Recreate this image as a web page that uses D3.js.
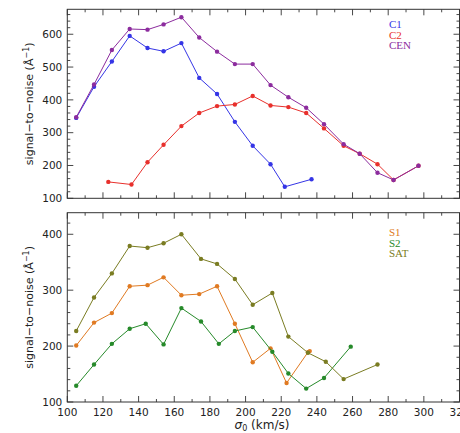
<!DOCTYPE html>
<html>
<head>
<meta charset="utf-8">
<script src="https://cdn.jsdelivr.net/npm/d3@7"></script>
<style>
  html, body { margin: 0; padding: 0; background: #fff; }
  svg { display: block; }
  .tick-label { font-family: "DejaVu Sans", sans-serif; font-size: 10.5px; fill: #222; }
  .axis-title { font-family: "DejaVu Sans", sans-serif; font-size: 11px; fill: #222; }
  .legend { font-family: "Liberation Serif", serif; font-size: 11px; }
</style>
</head>
<body>
<svg id="chart" width="460" height="433"></svg>
<script>
// Central-region fibres
const c1Sigma = [105,115,125,135,145,154,164,174,184,194,204,214,222,237];
const c1SN    = [345,440,517,595,558,548,573,467,418,333,260,204,135,158];
const c2Sigma = [123,136,145,154,164,174,184,194,204,214,224,234,244,255,264,274,283,297];
const c2SN    = [150,142,210,263,320,360,381,386,412,383,378,360,313,260,236,204,156,199];
const cenSigma = [105,115,125,135,145,154,164,174,184,194,204,214,224,234,244,255,264,274,283,297];
const cenSN    = [347,447,552,616,614,630,652,590,547,509,509,445,408,376,326,265,236,178,156,199];

// Satellite fibres
const s1Sigma = [105,115,125,135,145,154,164,174,184,194,204,214,223,235,236];
const s1SN    = [201,242,259,307,309,323,291,293,307,240,171,196,134,189,191];
const s2Sigma = [105,115,125,135,144,154,164,175,185,194,204,215,224,234,244,259];
const s2SN    = [129,167,204,231,240,203,268,244,204,227,234,190,151,124,143,199];
const satSigma = [105,115,125,135,145,154,164,175,184,194,204,215,224,235,245,255,274];
const satSN    = [227,287,330,379,376,384,400,356,347,320,274,295,217,188,172,141,167];

const xTicks = [100,120,140,160,180,200,220,240,260,280,300,320];
const yTicksTop = [100,200,300,400,500,600];
const yTicksBottom = [100,200,300,400];

const svg = d3.select("#chart");
const left = 67.3, right = 459.5;

const x = d3.scaleLinear().domain([100, 320]).range([left, right]);

const panels = [
  {
    top: 9.3, bottom: 198.3, domain: [100, 676], yTicks: yTicksTop, xLabels: false,
    series: [
      { name: "C1",  sigma: c1Sigma,  sn: c1SN,  color: "#3535e6" },
      { name: "C2",  sigma: c2Sigma,  sn: c2SN,  color: "#e8302c" },
      { name: "CEN", sigma: cenSigma, sn: cenSN, color: "#8c2c9e" }
    ],
    legendY: 28
  },
  {
    top: 212.7, bottom: 402, domain: [100, 438.6], yTicks: yTicksBottom, xLabels: true,
    series: [
      { name: "S1",  sigma: s1Sigma,  sn: s1SN,  color: "#e07a22" },
      { name: "S2",  sigma: s2Sigma,  sn: s2SN,  color: "#268a2a" },
      { name: "SAT", sigma: satSigma, sn: satSN, color: "#7a7c22" }
    ],
    legendY: 236
  }
];

panels.forEach(p => {
  const y = d3.scaleLinear().domain(p.domain).range([p.bottom, p.top]);
  const g = svg.append("g");
  const frame = "#333";

  // Minor and major ticks, drawn inward on all four sides
  const xMinor = d3.range(100, 321, 10);
  xMinor.forEach(v => {
    const len = v % 20 === 0 ? 6 : 3;
    const px = x(v);
    g.append("line").attr("x1", px).attr("x2", px).attr("y1", p.bottom).attr("y2", p.bottom - len)
      .attr("stroke", frame).attr("stroke-width", 0.9);
    g.append("line").attr("x1", px).attr("x2", px).attr("y1", p.top).attr("y2", p.top + len)
      .attr("stroke", frame).attr("stroke-width", 0.9);
  });
  const yMinor = d3.range(100, p.domain[1], 20);
  yMinor.forEach(v => {
    const len = v % 100 === 0 ? 6 : 3;
    const py = y(v);
    g.append("line").attr("x1", left).attr("x2", left + len).attr("y1", py).attr("y2", py)
      .attr("stroke", frame).attr("stroke-width", 0.9);
    g.append("line").attr("x1", right).attr("x2", right - len).attr("y1", py).attr("y2", py)
      .attr("stroke", frame).attr("stroke-width", 0.9);
  });

  // Frame
  g.append("rect").attr("x", left).attr("y", p.top)
    .attr("width", right - left).attr("height", p.bottom - p.top)
    .attr("fill", "none").attr("stroke", frame).attr("stroke-width", 1);

  // Y tick labels
  p.yTicks.forEach(v => {
    g.append("text").attr("class", "tick-label")
      .attr("x", left - 5).attr("y", y(v)).attr("dy", "0.35em")
      .attr("text-anchor", "end").text(v);
  });

  // X tick labels (bottom panel only)
  if (p.xLabels) {
    xTicks.forEach(v => {
      g.append("text").attr("class", "tick-label")
        .attr("x", x(v)).attr("y", p.bottom + 14)
        .attr("text-anchor", "middle").text(v);
    });
  }

  // Y axis title
  const yt = g.append("text").attr("class", "axis-title")
    .attr("transform", `translate(33,${(p.top + p.bottom) / 2}) rotate(-90)`)
    .attr("text-anchor", "middle");
  yt.append("tspan").text("signal\u2212to\u2212noise (\u00C5");
  yt.append("tspan").attr("font-size", "8px").attr("dy", "-4").text("\u22121");
  yt.append("tspan").attr("dy", "4").text(")");

  // Series
  const line = d3.line().x(d => x(d[0])).y(d => y(d[1]));
  p.series.forEach((s, i) => {
    const pts = s.sigma.map((v, k) => [v, s.sn[k]]);
    g.append("path").datum(pts).attr("d", line)
      .attr("fill", "none").attr("stroke", s.color).attr("stroke-width", 1);
    g.selectAll(null).data(pts).enter().append("circle")
      .attr("cx", d => x(d[0])).attr("cy", d => y(d[1])).attr("r", 2.2)
      .attr("fill", s.color);
    g.append("text").attr("class", "legend")
      .attr("x", 389).attr("y", p.legendY + i * 10.5)
      .attr("fill", s.color).text(s.name);
  });
});

// X axis title
const xt = svg.append("text").attr("class", "axis-title")
  .attr("x", 262).attr("y", 429).attr("text-anchor", "middle")
  .attr("font-family", "Liberation Serif, serif");
xt.append("tspan").attr("font-style", "italic").attr("font-size", "12px").text("\u03C3");
xt.append("tspan").attr("font-size", "8px").attr("dy", "2").text("0");
xt.append("tspan").attr("dy", "-2").attr("font-size", "12px").text(" (km/s)");
</script>
</body>
</html>
